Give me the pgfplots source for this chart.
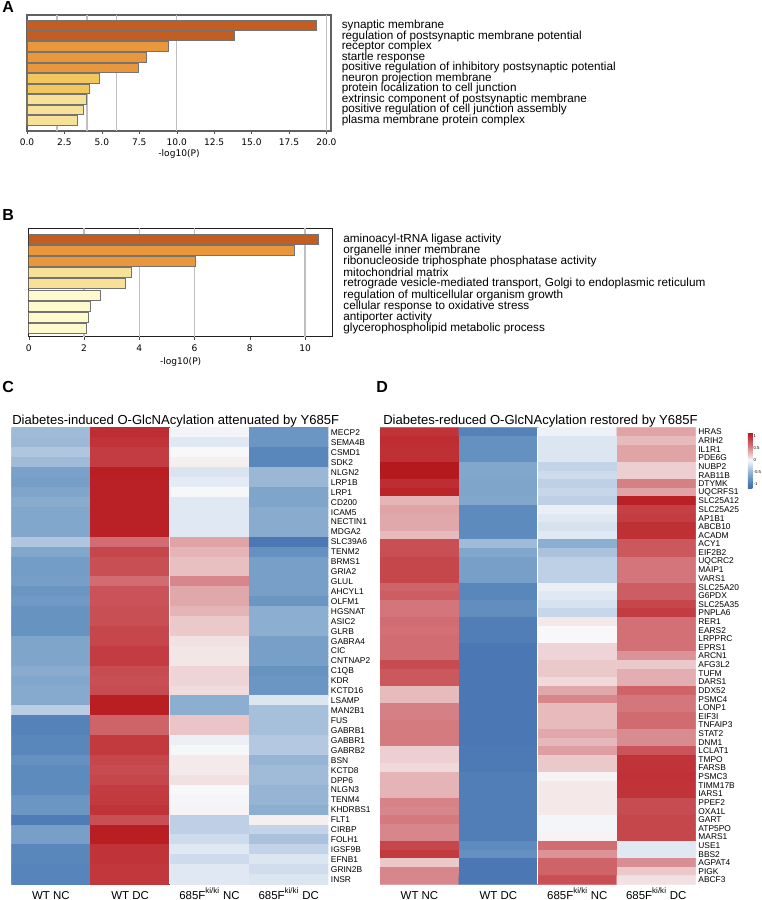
\documentclass[border=0pt]{standalone}
\usepackage{fontspec}
\setmainfont{Liberation Sans}
\newfontfamily\dejavu{DejaVu Sans}
\usepackage{pgfplots}
\pgfplotsset{compat=1.18}

% enrichment bar colours (by significance bin)
\definecolor{binA}{RGB}{196,94,32}
\definecolor{binB}{RGB}{233,151,58}
\definecolor{binC}{RGB}{241,198,92}
\definecolor{binD}{RGB}{247,225,150}
\definecolor{binE}{RGB}{255,250,206}

% diverging blue-white-red scale for the z-scored heatmaps (-1.15 ... 1.15)
\pgfplotsset{
  colormap={hm}{
    rgb255(0pt)=(65,112,176) rgb255(15pt)=(75,120,180) rgb255(35pt)=(100,145,192)
    rgb255(55pt)=(130,167,204) rgb255(70pt)=(160,187,215) rgb255(85pt)=(190,208,230)
    rgb255(105pt)=(228,235,244) rgb255(115pt)=(248,248,250) rgb255(125pt)=(242,225,226)
    rgb255(135pt)=(235,200,202) rgb255(150pt)=(226,170,173) rgb255(165pt)=(215,135,140)
    rgb255(175pt)=(210,112,117) rgb255(195pt)=(200,80,85) rgb255(205pt)=(195,60,65)
    rgb255(225pt)=(185,30,35) rgb255(230pt)=(180,25,30)},
  gobar/.style={
    scale only axis, anchor=north west, xbar, y dir=reverse, xmin=0,
    ytick={1,...,10}, yticklabel pos=right, ytick style={draw=none},
    yticklabel style={anchor=west, font=\fontsize{8.8}{9}\selectfont, xshift=2.3pt},
    xtick pos=bottom, tick align=outside, major tick length=2.25pt,
    xtick style={black!70},
    xticklabel style={font=\dejavu\fontsize{6.8}{8}\selectfont},
    /pgf/number format/assume math mode=true,
    xlabel={-log10(P)}, xlabel style={font=\dejavu\fontsize{6.8}{8}\selectfont, at={(axis description cs:0.5,0)}, anchor=base},
    extra x ticks={2,4,6,10,20}, extra x tick labels={},
    extra x tick style={grid=major, major tick length=0pt, major grid style={draw=black!25, line width=1pt}},
  },
  gobars/.style={draw=black!55, line width=0.6pt, bar width=0.9, bar shift=0pt},
  hmap/.style={
    scale only axis, anchor=north west, enlargelimits=false, y dir=reverse,
    xmin=-0.5, xmax=3.5, axis line style={draw=none}, tick style={draw=none},
    major tick length=0pt, xtick={0,1,2,3},
    xticklabels={WT NC, WT DC, 685F\textsuperscript{ki/ki} NC, 685F\textsuperscript{ki/ki} DC},
    xticklabel style={font=\fontsize{8.6}{9}\selectfont, anchor=base, yshift=-11pt},
    yticklabel pos=right,
    yticklabel style={font=\fontsize{6.3}{6.5}\selectfont, anchor=west, inner xsep=0pt, xshift=1.8pt},
    colormap name=hm, point meta min=-1.15, point meta max=1.15,
  },
}

\begin{document}
\begin{tikzpicture}
\useasboundingbox (0,0) rectangle (570.75pt,-675pt);
\fill[white] (0,0) rectangle (570.75pt,-675pt);

% ---------------- A: enrichment of the attenuated set ----------------
\begin{axis}[gobar, at={(20.25pt,-11.25pt)}, width=228pt, height=87pt,
  xmax=20.31, ymin=0, ymax=11,
  axis line style={black!62, line width=0.9pt},
  xtick={0,2.5,...,20},
  xticklabel style={/pgf/number format/.cd, fixed, fixed zerofill, precision=1},
  xlabel style={yshift=-18.75pt},
  yticklabels={synaptic membrane, regulation of postsynaptic membrane potential,
    receptor complex, startle response,
    positive regulation of inhibitory postsynaptic potential,
    neuron projection membrane, protein localization to cell junction,
    extrinsic component of postsynaptic membrane,
    positive regulation of cell junction assembly, plasma membrane protein complex}]
\addplot[gobars, fill=binA] coordinates {(19.33,1) (13.83,2)};
\addplot[gobars, fill=binB] coordinates {(9.44,3) (7.97,4) (7.44,5)};
\addplot[gobars, fill=binC] coordinates {(4.83,6) (4.16,7)};
\addplot[gobars, fill=binD] coordinates {(3.96,8) (3.76,9) (3.39,10)};
\end{axis}

% ---------------- B: enrichment of the restored set ----------------
\begin{axis}[gobar, at={(21.5pt,-171.2pt)}, width=228pt, height=81.3pt,
  xmax=11, ymin=0, ymax=9.75, ytick={1,...,9},
  axis line style={black!88, line width=1pt},
  xtick={0,2,...,10},
  xlabel style={yshift=-21.2pt},
  yticklabels={aminoacyl-tRNA ligase activity, organelle inner membrane,
    ribonucleoside triphosphate phosphatase activity, mitochondrial matrix,
    {retrograde vesicle-mediated transport, Golgi to endoplasmic reticulum},
    regulation of multicellular organism growth,
    cellular response to oxidative stress, antiporter activity,
    glycerophospholipid metabolic process}]
\addplot[gobars, fill=binA] coordinates {(10.48,1)};
\addplot[gobars, fill=binB] coordinates {(9.63,2) (6.03,3)};
\addplot[gobars, fill=binD] coordinates {(3.71,4) (3.50,5)};
\addplot[gobars, fill=binE] coordinates {(2.61,6) (2.22,7) (2.15,8) (2.08,9)};
\end{axis}

% ---------------- C: heatmap, diabetes-induced sites ----------------
\begin{axis}[hmap, at={(8.5pt,-320.8pt)}, width=237.75pt, height=342.45pt,
  ymin=-0.5, ymax=45.5, ytick={0,...,45},
  yticklabels={MECP2, SEMA4B, CSMD1, SDK2, NLGN2, LRP1B, LRP1, CD200, ICAM5,
    NECTIN1, MDGA2, SLC39A6, TENM2, BRMS1, GRIA2, GLUL, AHCYL1, OLFM1, HGSNAT,
    ASIC2, GLRB, GABRA4, CIC, CNTNAP2, C1QB, KDR, KCTD16, LSAMP, MAN2B1, FUS,
    GABRB1, GABBR1, GABRB2, BSN, KCTD8, DPP6, NLGN3, TENM4, KHDRBS1, FLT1,
    CIRBP, FOLH1, IGSF9B, EFNB1, GRIN2B, INSR}]
\addplot[matrix plot*, mesh/cols=4, point meta=explicit] coordinates {
(0,0)[-0.45] (1,0)[1.00] (2,0)[-0.03] (3,0)[-0.75] % MECP2
(0,1)[-0.47] (1,1)[0.95] (2,1)[-0.12] (3,1)[-0.75] % SEMA4B
(0,2)[-0.37] (1,2)[0.90] (2,2)[0.00] (3,2)[-0.88] % CSMD1
(0,3)[-0.45] (1,3)[0.90] (2,3)[0.04] (3,3)[-0.88] % SDK2
(0,4)[-0.65] (1,4)[1.10] (2,4)[-0.15] (3,4)[-0.48] % NLGN2
(0,5)[-0.68] (1,5)[1.08] (2,5)[-0.10] (3,5)[-0.48] % LRP1B
(0,6)[-0.62] (1,6)[1.08] (2,6)[-0.01] (3,6)[-0.62] % LRP1
(0,7)[-0.57] (1,7)[1.08] (2,7)[-0.12] (3,7)[-0.62] % CD200
(0,8)[-0.60] (1,8)[1.08] (2,8)[-0.12] (3,8)[-0.57] % ICAM5
(0,9)[-0.60] (1,9)[1.08] (2,9)[-0.12] (3,9)[-0.57] % NECTIN1
(0,10)[-0.60] (1,10)[1.08] (2,10)[-0.12] (3,10)[-0.57] % MDGA2
(0,11)[-0.37] (1,11)[0.62] (2,11)[0.38] (3,11)[-1.00] % SLC39A6
(0,12)[-0.60] (1,12)[0.85] (2,12)[0.30] (3,12)[-0.80] % TENM2
(0,13)[-0.70] (1,13)[0.80] (2,13)[0.24] (3,13)[-0.67] % BRMS1
(0,14)[-0.70] (1,14)[0.80] (2,14)[0.24] (3,14)[-0.67] % GRIA2
(0,15)[-0.68] (1,15)[0.62] (2,15)[0.50] (3,15)[-0.67] % GLUL
(0,16)[-0.75] (1,16)[0.78] (2,16)[0.36] (3,16)[-0.67] % AHCYL1
(0,17)[-0.72] (1,17)[0.78] (2,17)[0.36] (3,17)[-0.75] % OLFM1
(0,18)[-0.78] (1,18)[0.80] (2,18)[0.30] (3,18)[-0.55] % HGSNAT
(0,19)[-0.78] (1,19)[0.80] (2,19)[0.20] (3,19)[-0.55] % ASIC2
(0,20)[-0.78] (1,20)[0.85] (2,20)[0.20] (3,20)[-0.55] % GLRB
(0,21)[-0.62] (1,21)[0.85] (2,21)[0.10] (3,21)[-0.67] % GABRA4
(0,22)[-0.62] (1,22)[0.90] (2,22)[0.08] (3,22)[-0.67] % CIC
(0,23)[-0.62] (1,23)[0.90] (2,23)[0.08] (3,23)[-0.67] % CNTNAP2
(0,24)[-0.57] (1,24)[0.82] (2,24)[0.15] (3,24)[-0.78] % C1QB
(0,25)[-0.60] (1,25)[0.80] (2,25)[0.15] (3,25)[-0.75] % KDR
(0,26)[-0.58] (1,26)[0.82] (2,26)[0.12] (3,26)[-0.75] % KCTD16
(0,27)[-0.58] (1,27)[1.10] (2,27)[-0.55] (3,27)[-0.14] % LSAMP
(0,28)[-0.32] (1,28)[1.10] (2,28)[-0.55] (3,28)[-0.42] % MAN2B1
(0,29)[-0.92] (1,29)[0.68] (2,29)[0.22] (3,29)[-0.42] % FUS
(0,30)[-0.92] (1,30)[0.68] (2,30)[0.22] (3,30)[-0.42] % GABRB1
(0,31)[-0.88] (1,31)[0.92] (2,31)[-0.06] (3,31)[-0.35] % GABBR1
(0,32)[-0.88] (1,32)[0.92] (2,32)[-0.01] (3,32)[-0.35] % GABRB2
(0,33)[-0.80] (1,33)[0.85] (2,33)[0.06] (3,33)[-0.50] % BSN
(0,34)[-0.85] (1,34)[0.82] (2,34)[0.06] (3,34)[-0.45] % KCTD8
(0,35)[-0.85] (1,35)[0.85] (2,35)[0.10] (3,35)[-0.45] % DPP6
(0,36)[-0.85] (1,36)[0.90] (2,36)[0.00] (3,36)[-0.50] % NLGN3
(0,37)[-0.75] (1,37)[0.92] (2,37)[-0.02] (3,37)[-0.50] % TENM4
(0,38)[-0.75] (1,38)[0.95] (2,38)[0.02] (3,38)[-0.55] % KHDRBS1
(0,39)[-0.97] (1,39)[0.80] (2,39)[-0.30] (3,39)[0.04] % FLT1
(0,40)[-0.67] (1,40)[1.10] (2,40)[-0.30] (3,40)[-0.27] % CIRBP
(0,41)[-0.67] (1,41)[1.10] (2,41)[-0.22] (3,41)[-0.40] % FOLH1
(0,42)[-0.88] (1,42)[0.95] (2,42)[-0.12] (3,42)[-0.27] % IGSF9B
(0,43)[-0.88] (1,43)[0.95] (2,43)[-0.22] (3,43)[-0.14] % EFNB1
(0,44)[-0.90] (1,44)[0.93] (2,44)[-0.12] (3,44)[-0.20] % GRIN2B
(0,45)[-0.90] (1,45)[0.93] (2,45)[-0.12] (3,45)[-0.14] % INSR
};
\draw[white, line width=0.75pt] (axis cs:1.5,-0.5) -- (axis cs:1.5,45.5);
\end{axis}

% ---------------- D: heatmap, diabetes-reduced sites ----------------
\begin{axis}[hmap, at={(285pt,-320.8pt)}, width=236.8pt, height=342.45pt,
  ymin=-0.5, ymax=52.5, ytick={0,...,52},
  yticklabels={HRAS, ARIH2, IL1R1, PDE6G, NUBP2, RAB11B, DTYMK, UQCRFS1,
    SLC25A12, SLC25A25, AP1B1, ABCB10, ACADM, ACY1, EIF2B2, UQCRC2, MAIP1,
    VARS1, SLC25A20, G6PDX, SLC25A35, PNPLA6, RER1, EARS2, LRPPRC, EPRS1,
    ARCN1, AFG3L2, TUFM, DARS1, DDX52, PSMC4, LONP1, EIF3I, TNFAIP3, STAT2,
    DNM1, LCLAT1, TMPO, FARSB, PSMC3, TIMM17B, IARS1, PPEF2, OXA1L, GART,
    ATP5PO, MARS1, USE1, BBS2, AGPAT4, PIGK, ABCF3},
  colorbar,
  colorbar style={scale only axis, at={(parent axis.north east)}, anchor=north west,
    xshift=30.5pt, yshift=-3.2pt, width=3.4pt, height=42pt,
    ytick={-1,-0.5,0,0.5,1}, yticklabel pos=right,
    yticklabel style={font=\fontsize{3.2}{3.5}\selectfont, inner xsep=0.8pt},
    /pgf/number format/assume math mode=true,
    axis line style={draw=none}, major tick length=0pt}]
\addplot[matrix plot*, mesh/cols=4, point meta=explicit] coordinates {
(0,0)[0.95] (1,0)[-0.92] (2,0)[-0.05] (3,0)[0.38] % HRAS
(0,1)[1.00] (1,1)[-0.80] (2,1)[-0.14] (3,1)[0.27] % ARIH2
(0,2)[0.98] (1,2)[-0.80] (2,2)[-0.14] (3,2)[0.38] % IL1R1
(0,3)[0.98] (1,3)[-0.80] (2,3)[-0.14] (3,3)[0.38] % PDE6G
(0,4)[1.15] (1,4)[-0.60] (2,4)[-0.27] (3,4)[0.17] % NUBP2
(0,5)[1.15] (1,5)[-0.60] (2,5)[-0.22] (3,5)[0.17] % RAB11B
(0,6)[1.00] (1,6)[-0.62] (2,6)[-0.30] (3,6)[0.53] % DTYMK
(0,7)[1.05] (1,7)[-0.62] (2,7)[-0.25] (3,7)[0.38] % UQCRFS1
(0,8)[0.30] (1,8)[-0.60] (2,8)[-0.30] (3,8)[1.08] % SLC25A12
(0,9)[0.38] (1,9)[-0.85] (2,9)[-0.07] (3,9)[0.88] % SLC25A25
(0,10)[0.36] (1,10)[-0.85] (2,10)[-0.12] (3,10)[0.90] % AP1B1
(0,11)[0.36] (1,11)[-0.85] (2,11)[-0.17] (3,11)[0.98] % ABCB10
(0,12)[0.27] (1,12)[-0.85] (2,12)[-0.12] (3,12)[0.98] % ACADM
(0,13)[0.80] (1,13)[-0.45] (2,13)[-0.55] (3,13)[0.75] % ACY1
(0,14)[0.80] (1,14)[-0.60] (2,14)[-0.40] (3,14)[0.75] % EIF2B2
(0,15)[0.85] (1,15)[-0.67] (2,15)[-0.30] (3,15)[0.58] % UQCRC2
(0,16)[0.85] (1,16)[-0.67] (2,16)[-0.30] (3,16)[0.58] % MAIP1
(0,17)[0.85] (1,17)[-0.67] (2,17)[-0.30] (3,17)[0.58] % VARS1
(0,18)[0.68] (1,18)[-0.88] (2,18)[-0.07] (3,18)[0.72] % SLC25A20
(0,19)[0.72] (1,19)[-0.88] (2,19)[-0.12] (3,19)[0.72] % G6PDX
(0,20)[0.58] (1,20)[-0.82] (2,20)[-0.17] (3,20)[0.85] % SLC25A35
(0,21)[0.58] (1,21)[-0.82] (2,21)[-0.25] (3,21)[0.90] % PNPLA6
(0,22)[0.62] (1,22)[-0.95] (2,22)[0.07] (3,22)[0.60] % RER1
(0,23)[0.60] (1,23)[-0.95] (2,23)[0.00] (3,23)[0.60] % EARS2
(0,24)[0.62] (1,24)[-0.95] (2,24)[0.00] (3,24)[0.60] % LRPPRC
(0,25)[0.62] (1,25)[-1.00] (2,25)[0.15] (3,25)[0.60] % EPRS1
(0,26)[0.62] (1,26)[-1.00] (2,26)[0.15] (3,26)[0.45] % ARCN1
(0,27)[0.82] (1,27)[-1.00] (2,27)[0.20] (3,27)[0.20] % AFG3L2
(0,28)[0.75] (1,28)[-1.00] (2,28)[0.20] (3,28)[0.33] % TUFM
(0,29)[0.75] (1,29)[-1.00] (2,29)[0.13] (3,29)[0.33] % DARS1
(0,30)[0.27] (1,30)[-1.00] (2,30)[0.36] (3,30)[0.68] % DDX52
(0,31)[0.27] (1,31)[-1.00] (2,31)[0.50] (3,31)[0.57] % PSMC4
(0,32)[0.53] (1,32)[-1.00] (2,32)[0.27] (3,32)[0.57] % LONP1
(0,33)[0.53] (1,33)[-1.00] (2,33)[0.27] (3,33)[0.63] % EIF3I
(0,34)[0.55] (1,34)[-1.00] (2,34)[0.27] (3,34)[0.63] % TNFAIP3
(0,35)[0.55] (1,35)[-1.00] (2,35)[0.36] (3,35)[0.48] % STAT2
(0,36)[0.55] (1,36)[-1.00] (2,36)[0.28] (3,36)[0.48] % DNM1
(0,37)[0.17] (1,37)[-0.98] (2,37)[0.40] (3,37)[0.77] % LCLAT1
(0,38)[0.17] (1,38)[-0.98] (2,38)[0.20] (3,38)[0.95] % TMPO
(0,39)[0.13] (1,39)[-0.98] (2,39)[0.20] (3,39)[0.95] % FARSB
(0,40)[0.30] (1,40)[-0.95] (2,40)[0.02] (3,40)[0.97] % PSMC3
(0,41)[0.30] (1,41)[-0.95] (2,41)[0.07] (3,41)[0.95] % TIMM17B
(0,42)[0.30] (1,42)[-0.95] (2,42)[0.07] (3,42)[0.95] % IARS1
(0,43)[0.52] (1,43)[-0.95] (2,43)[0.07] (3,43)[0.82] % PPEF2
(0,44)[0.50] (1,44)[-0.95] (2,44)[0.07] (3,44)[0.82] % OXA1L
(0,45)[0.56] (1,45)[-0.95] (2,45)[-0.02] (3,45)[0.85] % GART
(0,46)[0.50] (1,46)[-0.95] (2,46)[-0.02] (3,46)[0.85] % ATP5PO
(0,47)[0.50] (1,47)[-0.95] (2,47)[0.02] (3,47)[0.85] % MARS1
(0,48)[0.85] (1,48)[-0.85] (2,48)[0.62] (3,48)[-0.12] % USE1
(0,49)[0.92] (1,49)[-0.80] (2,49)[0.45] (3,49)[-0.12] % BBS2
(0,50)[0.20] (1,50)[-1.00] (2,50)[0.68] (3,50)[0.47] % AGPAT4
(0,51)[0.50] (1,51)[-1.00] (2,51)[0.68] (3,51)[0.20] % PIGK
(0,52)[0.50] (1,52)[-1.00] (2,52)[0.80] (3,52)[0.10] % ABCF3
};
\draw[white, line width=0.75pt] (axis cs:1.5,-0.5) -- (axis cs:1.5,52.5);
\end{axis}

% ---------------- titles and panel letters ----------------
\node[anchor=base west, inner sep=0pt, font=\fontsize{9.8}{10}\selectfont] at (9pt,-318.4pt)
  {Diabetes-induced O-GlcNAcylation attenuated by Y685F};
\node[anchor=base west, inner sep=0pt, font=\fontsize{9.8}{10}\selectfont] at (287.25pt,-318.4pt)
  {Diabetes-reduced O-GlcNAcylation restored by Y685F};
\foreach \lab/\px/\py in {A/1.5pt/-9pt, B/1.5pt/-165pt, C/1.5pt/-294.5pt, D/282pt/-294.5pt}
  \node[anchor=base west, inner sep=0pt, font=\bfseries\fontsize{12}{12}\selectfont] at (\px,\py) {\lab};
\end{tikzpicture}
\end{document}
